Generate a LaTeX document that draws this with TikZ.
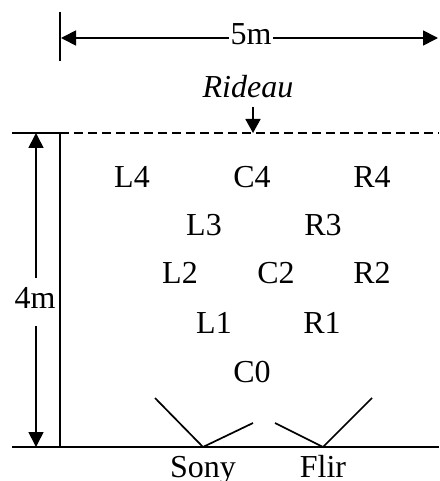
\documentclass[tikz,border=0pt]{standalone}
\usepackage{fontspec}
\setmainfont{Liberation Serif}
\usetikzlibrary{arrows.meta}
\begin{document}
\begin{tikzpicture}[x=1pt,y=-1pt,
  every node/.style={font=\fontsize{32}{38}\selectfont, inner sep=0pt, anchor=base},
  ln/.style={line width=1.7pt},
  dim/.style={line width=1.7pt, {Triangle[length=15pt,width=15pt]}-{Triangle[length=15pt,width=15pt]}},
  pt/.style={line width=1.7pt, -{Triangle[length=14pt,width=15pt]}},
  lbl/.style={fill=white, inner xsep=2pt}]
\useasboundingbox (0,0) rectangle (439,481);
% top dimension
\coordinate (tickT) at (60,12);
\coordinate (tickB) at (60,61);
\draw[ln] (tickT) -- (tickB);
\coordinate (wL) at (61,38);
\coordinate (wR) at (438,38);
\draw[dim] (wL) -- (wR);
\node[lbl] (w) at (251,45) {5m};
% curtain
\node (rideau) at (248,98) {\itshape Rideau};
\coordinate (rtop) at (253,107);
\coordinate (rbot) at (253,133);
\draw[pt] (rtop) -- (rbot);
\coordinate (cL) at (12,133);
\coordinate (cM) at (60,133);
\coordinate (cR) at (439,133);
\draw[ln] (cL) -- (cM);
\draw[ln, dash pattern=on 9pt off 5pt] (cM) -- (cR);
% walls
\coordinate (fL) at (12,447);
\coordinate (fM) at (60,447);
\coordinate (fR) at (439,447);
\draw[ln] (fL) -- (fR);
\draw[ln] (cM) -- (fM);
% height dimension
\coordinate (hT) at (36,133);
\coordinate (hB) at (36,447);
\draw[dim] (hT) -- (hB);
\node[lbl, inner ysep=9pt, text depth=9pt] (h) at (35,308) {4m};
% positions
\node (L4) at (132,187) {L4};
\node (C4) at (252,187) {C4};
\node (R4) at (372,187) {R4};
\node (L3) at (204,235) {L3};
\node (R3) at (323,235) {R3};
\node (L2) at (180,283) {L2};
\node (C2) at (276,283) {C2};
\node (R2) at (372,283) {R2};
\node (L1) at (214,333) {L1};
\node (R1) at (322,333) {R1};
\node (C0) at (252,382) {C0};
% cameras
\coordinate (sony) at (203,447);
\coordinate (sonyA) at (155,398);
\coordinate (sonyB) at (253,423);
\coordinate (flir) at (323,447);
\coordinate (flirA) at (275,423);
\coordinate (flirB) at (372,398);
\draw[ln] (sonyA) -- (sony) -- (sonyB);
\draw[ln] (flirA) -- (flir) -- (flirB);
\node (sonyl) at (203,477) {Sony};
\node (flirl) at (323,477) {Flir};
\end{tikzpicture}
\end{document}
